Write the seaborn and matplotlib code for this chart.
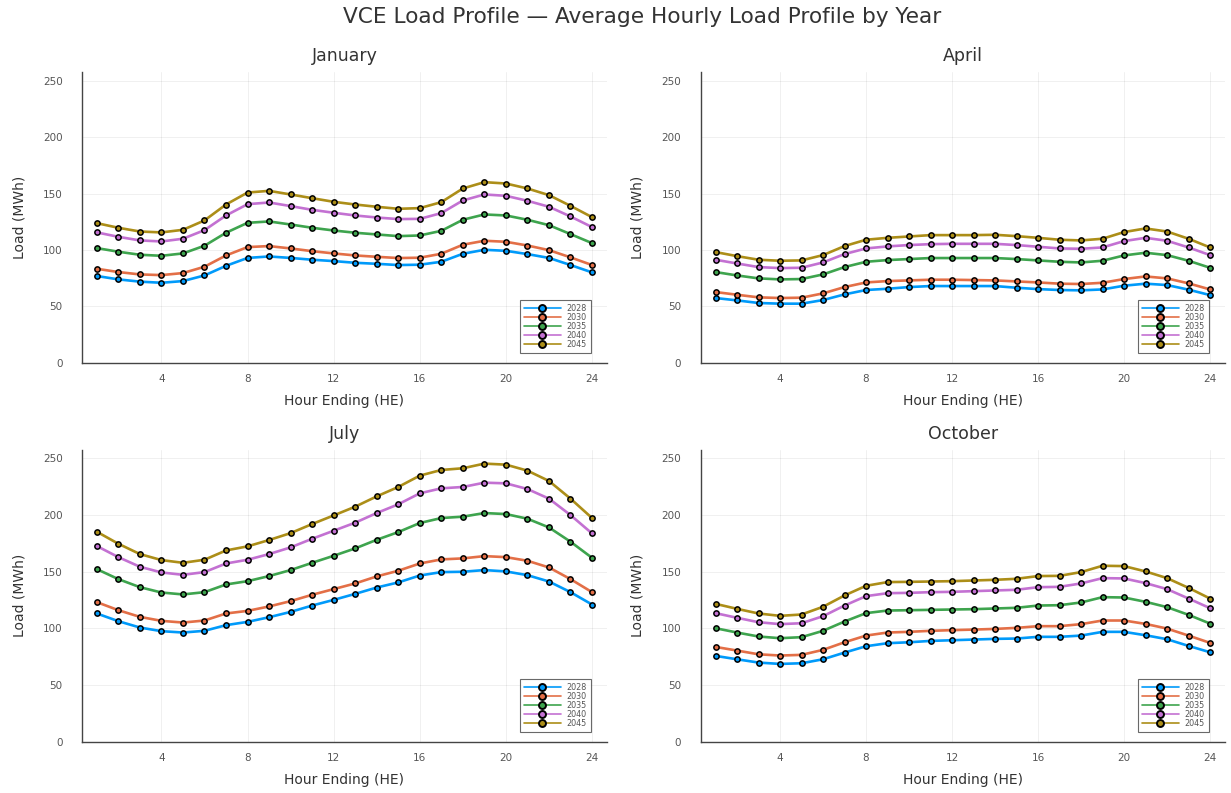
import numpy as np
import pandas as pd
import matplotlib
matplotlib.use("Agg")
import matplotlib.pyplot as plt
import seaborn as sns
from matplotlib.lines import Line2D

HOURS = list(range(1, 25))
YEARS = ["2028", "2030", "2035", "2040", "2045"]
MONTHS = ["January", "April", "July", "October"]
COLORS = ["#009AFA", "#E36F47", "#3EA44E", "#C371D2", "#AC8E18"]

# Average hourly load (MWh), hour ending 1..24
JAN_2028 = [77.0, 74.0, 72.0, 71.0, 72.5, 77.5, 86.0, 93.0, 94.3, 93.0, 91.4, 90.2,
            88.7, 87.8, 86.7, 87.0, 89.6, 96.7, 100.2, 99.3, 96.4, 93.0, 86.7, 80.2]
JAN_2030 = [83.4, 80.5, 78.4, 77.8, 79.6, 85.2, 95.2, 102.6, 103.5, 101.4, 99.0, 97.0,
            95.2, 94.0, 92.9, 93.2, 96.7, 104.7, 108.2, 107.3, 104.0, 99.9, 93.5, 86.7]
JAN_2035 = [101.7, 98.5, 95.8, 94.9, 97.0, 103.8, 115.3, 124.1, 125.3, 122.6, 119.7, 117.3,
            115.3, 113.8, 112.3, 112.9, 117.0, 126.8, 131.5, 130.6, 126.8, 122.0, 114.1, 106.1]
JAN_2040 = [115.6, 111.7, 108.5, 107.6, 110.0, 117.6, 130.6, 140.6, 142.1, 138.9, 135.6, 133.0,
            130.6, 128.8, 127.4, 127.6, 132.7, 143.9, 149.2, 148.0, 143.6, 138.3, 129.7, 120.3]
JAN_2045 = [123.8, 119.7, 116.4, 115.6, 117.9, 126.2, 140.3, 150.9, 152.4, 149.2, 145.9, 142.7,
            140.3, 138.3, 136.5, 137.1, 142.4, 154.5, 160.1, 158.9, 154.5, 148.6, 139.1, 129.1]

APR_2028 = [57.5, 55.4, 53.1, 52.5, 52.5, 55.7, 60.7, 64.6, 65.7, 67.2, 68.1, 68.1,
            68.1, 68.1, 66.6, 65.4, 64.6, 64.3, 65.1, 68.4, 70.2, 69.0, 64.9, 60.1]
APR_2030 = [62.8, 60.4, 58.1, 57.5, 57.8, 61.6, 67.2, 71.3, 72.5, 73.1, 73.7, 73.7,
            73.4, 73.1, 72.2, 71.3, 70.2, 69.9, 71.0, 74.3, 76.6, 74.9, 70.5, 65.1]
APR_2035 = [80.5, 77.5, 74.9, 74.0, 74.3, 78.4, 84.9, 89.6, 91.1, 92.0, 92.9, 92.9,
            92.9, 92.9, 92.0, 90.8, 89.6, 89.0, 90.5, 95.2, 97.6, 95.5, 90.5, 84.3]
APR_2040 = [91.4, 88.1, 84.9, 84.0, 84.3, 89.0, 96.4, 101.4, 103.2, 104.4, 105.2, 105.5,
            105.5, 105.5, 104.4, 102.9, 101.4, 101.1, 102.3, 107.9, 110.8, 108.2, 102.3, 95.5]
APR_2045 = [98.2, 94.6, 91.4, 90.5, 90.8, 95.5, 103.5, 109.1, 110.8, 112.0, 113.2, 113.2,
            113.2, 113.5, 112.3, 110.8, 109.1, 108.5, 110.0, 115.9, 119.1, 116.4, 110.0, 102.3]

JUL_2028 = [113.1, 106.3, 100.7, 97.5, 96.3, 97.8, 102.8, 105.7, 109.8, 114.5, 120.1, 125.1,
            130.4, 136.0, 140.5, 146.6, 149.6, 149.9, 151.4, 150.2, 146.9, 141.3, 131.9, 121.0]
JUL_2030 = [123.1, 116.0, 110.1, 106.6, 105.1, 106.9, 113.1, 115.4, 119.3, 124.0, 129.6, 134.6,
            139.6, 145.8, 150.8, 157.2, 160.8, 161.7, 163.7, 162.8, 159.6, 153.7, 143.4, 131.9]
JUL_2035 = [152.2, 143.4, 136.3, 131.6, 129.9, 131.9, 138.7, 141.6, 146.1, 151.4, 157.8, 164.0,
            170.5, 178.1, 184.9, 192.9, 197.3, 198.5, 201.7, 200.8, 196.7, 189.0, 176.4, 162.2]
JUL_2040 = [172.6, 162.8, 154.3, 149.3, 147.2, 149.6, 157.2, 160.5, 165.5, 171.4, 179.0, 186.1,
            193.2, 201.7, 209.4, 219.1, 223.5, 224.7, 228.5, 227.9, 222.9, 214.4, 199.9, 183.7]
JUL_2045 = [185.2, 174.6, 165.5, 160.2, 157.8, 160.5, 168.7, 172.3, 177.9, 184.0, 192.0, 199.6,
            207.3, 216.4, 224.7, 234.7, 239.7, 241.2, 245.3, 244.4, 239.1, 230.0, 214.4, 197.3]

OCT_2028 = [75.7, 72.7, 69.8, 68.6, 69.2, 72.7, 78.6, 84.2, 86.9, 87.7, 88.9, 89.5,
            90.1, 90.7, 91.0, 92.5, 92.5, 93.6, 96.9, 96.9, 93.9, 90.4, 84.5, 78.9]
OCT_2030 = [83.6, 80.4, 77.1, 76.0, 76.6, 81.0, 87.7, 93.6, 96.3, 96.9, 97.8, 98.4,
            98.9, 99.5, 100.4, 101.9, 101.9, 103.7, 106.9, 106.9, 103.9, 99.8, 93.6, 87.2]
OCT_2035 = [100.1, 96.3, 92.8, 91.3, 92.2, 97.8, 106.0, 113.4, 115.7, 116.0, 116.3, 116.6,
            116.9, 117.5, 118.1, 120.1, 120.4, 122.8, 127.5, 127.2, 123.4, 118.7, 111.9, 104.2]
OCT_2040 = [113.4, 109.3, 105.4, 103.7, 104.5, 110.7, 120.1, 128.4, 131.0, 131.3, 131.9, 132.2,
            132.8, 133.4, 134.0, 136.3, 136.6, 139.6, 144.3, 144.0, 139.9, 134.6, 126.3, 117.8]
OCT_2045 = [121.6, 117.2, 113.1, 111.0, 112.2, 119.0, 129.0, 137.5, 140.8, 141.0, 141.3, 141.6,
            142.2, 142.8, 143.7, 146.1, 146.3, 149.6, 155.2, 154.9, 150.2, 144.3, 135.7, 126.3]

SERIES = {
    "January": [JAN_2028, JAN_2030, JAN_2035, JAN_2040, JAN_2045],
    "April": [APR_2028, APR_2030, APR_2035, APR_2040, APR_2045],
    "July": [JUL_2028, JUL_2030, JUL_2035, JUL_2040, JUL_2045],
    "October": [OCT_2028, OCT_2030, OCT_2035, OCT_2040, OCT_2045],
}

rows = []
for month in MONTHS:
    for year, vals in zip(YEARS, SERIES[month]):
        for h, v in zip(HOURS, vals):
            rows.append({"month": month, "year": year, "hour": h, "load": v})
df = pd.DataFrame(rows)

sns.set_theme(style="white")
plt.rcParams["font.family"] = ["DejaVu Sans"]

fig = plt.figure(figsize=(12.31, 7.93), dpi=100)
fig.patch.set_facecolor("white")

# axes rectangles [left, bottom, width, height] in figure fraction
rects = {
    "January": [0.0666, 0.5423, 0.4264, 0.3667],
    "April": [0.5692, 0.5423, 0.4258, 0.3667],
    "July": [0.0666, 0.0647, 0.4264, 0.3681],
    "October": [0.5692, 0.0647, 0.4258, 0.3681],
}

TEXT = "#333333"
TICKTEXT = "#555555"
ymax = 257.5
palette = dict(zip(YEARS, COLORS))
for month in MONTHS:
    ax = fig.add_axes(rects[month])
    sub = df[df["month"] == month]
    sns.lineplot(data=sub, x="hour", y="load", hue="year", hue_order=YEARS,
                 palette=palette, marker="o", markersize=3.8,
                 markeredgecolor="black", markeredgewidth=1.1,
                 linewidth=1.9, ax=ax, legend=False, zorder=3)
    ax.set_xlim(0.31, 24.69)
    ax.set_ylim(0, ymax)
    ax.set_xticks([4, 8, 12, 16, 20, 24])
    ax.set_yticks([0, 50, 100, 150, 200, 250])
    ax.grid(True, color="black", alpha=0.07, linewidth=0.6)
    ax.set_axisbelow(True)
    for s in ["top", "right"]:
        ax.spines[s].set_visible(False)
    for s in ["left", "bottom"]:
        ax.spines[s].set_color("#444444")
        ax.spines[s].set_linewidth(1.0)
    ax.tick_params(axis="both", direction="in", length=3, width=0.8,
                   colors="#444444", labelsize=7.5)
    ax.tick_params(axis="x", pad=8, labelcolor=TICKTEXT)
    ax.tick_params(axis="y", pad=14, labelcolor=TICKTEXT)
    ax.set_title(month, fontsize=12.5, color=TEXT, pad=8)
    ax.set_xlabel("Hour Ending (HE)", fontsize=10, color=TEXT, labelpad=7)
    ax.set_ylabel("Load (MWh)", fontsize=10, color=TEXT, labelpad=12)

    handles = [Line2D([0], [0], color=c, lw=1.2, marker="o", markersize=5,
                      markerfacecolor=c, markeredgecolor="black", markeredgewidth=1.4)
               for c in COLORS]
    leg = ax.legend(handles, YEARS, loc="lower right", fontsize=5.8,
                    frameon=True, fancybox=False, handlelength=4.6,
                    labelspacing=0.0, borderpad=0.5, handletextpad=0.7,
                    borderaxespad=0.0, bbox_to_anchor=(0.9695, 0.034))
    leg.get_frame().set_edgecolor("#444444")
    leg.get_frame().set_linewidth(0.8)
    for t in leg.get_texts():
        t.set_color(TICKTEXT)

fig.text(642 / 1231, 1 - 17 / 793, "VCE Load Profile \u2014 Average Hourly Load Profile by Year",
         fontsize=15.6, color=TEXT, ha="center", va="center")

fig.savefig("out.png", dpi=100, facecolor="white")
